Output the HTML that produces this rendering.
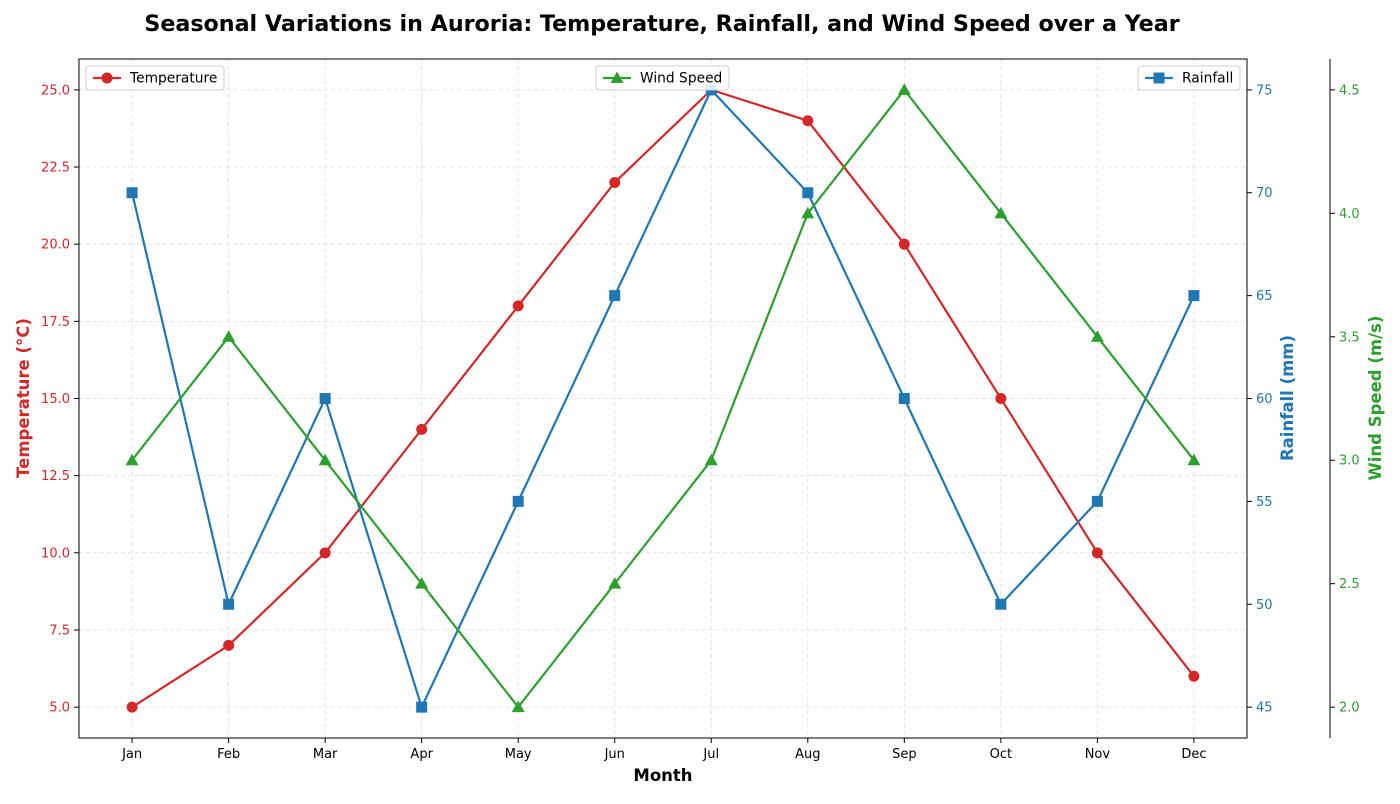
<!DOCTYPE html>
<html><head><meta charset="utf-8"><style>
body{margin:0;background:#fff;font-family:"DejaVu Sans","Liberation Sans",sans-serif}
svg text{font-family:"DejaVu Sans","Liberation Sans",sans-serif}
</style></head><body>
<svg id="c" width="1400" height="800" xmlns="http://www.w3.org/2000/svg"></svg>
<script>
const months=["Jan","Feb","Mar","Apr","May","Jun","Jul","Aug","Sep","Oct","Nov","Dec"];
const temperature=[5,7,10,14,18,22,25,24,20,15,10,6];
const rainfall=[70,50,60,45,55,65,75,70,60,50,55,65];
const windSpeed=[3.0,3.5,3.0,2.5,2.0,2.5,3.0,4.0,4.5,4.0,3.5,3.0];
const tempTicks=[5,7.5,10,12.5,15,17.5,20,22.5,25];
const rainTicks=[45,50,55,60,65,70,75];
const windTicks=[2.0,2.5,3.0,3.5,4.0,4.5];

const L=79,R=1247,T=59,B=738;
const svg=document.getElementById('c');
const NS='http://www.w3.org/2000/svg';
function el(tag,attrs,parent,text){const e=document.createElementNS(NS,tag);for(const k in attrs)e.setAttribute(k,attrs[k]);if(text!==undefined)e.textContent=text;(parent||svg).appendChild(e);return e;}
const x=i=>L+(i+0.55)/12.1*(R-L);
const yT=v=>B-(v-4)/22*(B-T);
const yR=v=>B-(v-43.5)/33*(B-T);
const yW=v=>B-(v-1.875)/2.75*(B-T);
const RED='#d62728',BLUE='#1f77b4',GREEN='#2ca02c';

let t=el('text',{x:662,y:31,'text-anchor':'middle','font-size':22.2,'font-weight':'bold'},svg,'Seasonal Variations in Auroria: Temperature, Rainfall, and Wind Speed over a Year');


const grid=el('g',{stroke:'#ddd','stroke-width':0.8,'stroke-dasharray':'4,3'});

tempTicks.forEach(v=>el('line',{x1:L,x2:R,y1:yT(v),y2:yT(v)},grid));
months.forEach((m,i)=>el('line',{x1:x(i),x2:x(i),y1:T,y2:B},grid));

const xa=el('g',{});
months.forEach((m,i)=>{el('line',{x1:x(i),x2:x(i),y1:B,y2:B+5,stroke:'#000'},xa);el('text',{x:x(i),y:B+20,'text-anchor':'middle','font-size':13},xa,m);});
t=el('text',{x:663,y:781,'text-anchor':'middle','font-size':16.5,'font-weight':'bold'},svg,'Month');


const ya=el('g',{fill:RED});
tempTicks.forEach(v=>{el('line',{x1:L-5,x2:L,y1:yT(v),y2:yT(v),stroke:'#000'},ya);el('text',{x:L-9,y:yT(v)+4.5,'text-anchor':'end','font-size':13},ya,v.toFixed(1));});
t=el('text',{x:29,y:398,'text-anchor':'middle','font-size':16.5,'font-weight':'bold',fill:RED,transform:'rotate(-90 29 398)'},svg,'Temperature (°C)');


const ra=el('g',{fill:BLUE});
rainTicks.forEach(v=>{el('line',{x1:R,x2:R+5,y1:yR(v),y2:yR(v),stroke:'#000'},ra);el('text',{x:R+9,y:yR(v)+4.5,'font-size':13},ra,String(v));});
t=el('text',{x:1293,y:398,'text-anchor':'middle','font-size':16.5,'font-weight':'bold',fill:BLUE,transform:'rotate(-90 1293 398)'},svg,'Rainfall (mm)');


const wa=el('g',{fill:GREEN});
el('line',{x1:1330,x2:1330,y1:T,y2:B,stroke:'#000'},wa);
windTicks.forEach(v=>{el('line',{x1:1330,x2:1335,y1:yW(v),y2:yW(v),stroke:'#000'},wa);el('text',{x:1339,y:yW(v)+4.5,'font-size':13},wa,v.toFixed(1));});
t=el('text',{x:1381,y:398,'text-anchor':'middle','font-size':16.5,'font-weight':'bold',fill:GREEN,transform:'rotate(-90 1381 398)'},svg,'Wind Speed (m/s)');


function marker(g,type,cx,cy,c){
 if(type==='o')return el('circle',{cx,cy,r:5.5,fill:c},g);
 if(type==='s')return el('rect',{x:cx-5.5,y:cy-5.5,width:11,height:11,fill:c},g);
 return el('polygon',{points:`${cx},${cy-6.5} ${cx+6.5},${cy+5} ${cx-6.5},${cy+5}`,fill:c},g);
}
function series(name,data,yf,c,type){
 const g=el('g',{});
 const p=el('polyline',{points:data.map((v,i)=>x(i)+','+yf(v)).join(' '),fill:'none',stroke:c,'stroke-width':2.2},g);
 
 data.forEach((v,i)=>{const m=marker(g,type,x(i),yf(v),c);
  
  });
}
series('temperature',temperature,yT,RED,'o');
series('rainfall',rainfall,yR,BLUE,'s');
series('wind-speed',windSpeed,yW,GREEN,'^');

el('rect',{x:L,y:T,width:R-L,height:B-T,fill:'none',stroke:'#000','stroke-width':1});

function legend(name,label,lx,w,c,type){
 const g=el('g',{});
 el('rect',{x:lx,y:66,width:w,height:24,rx:3,fill:'#fff','fill-opacity':0.85,stroke:'#ccc'},g);
 el('line',{x1:lx+7,x2:lx+35,y1:78,y2:78,stroke:c,'stroke-width':2.2},g);
 marker(g,type,lx+21,78,c);
 el('text',{x:lx+44,y:82.5,'font-size':13.8},g,label);
}
legend('legend-temperature','Temperature',86,138,RED,'o');
legend('legend-wind-speed','Wind Speed',596,133,GREEN,'^');
legend('legend-rainfall','Rainfall',1138,102,BLUE,'s');
</script>
</body></html>
